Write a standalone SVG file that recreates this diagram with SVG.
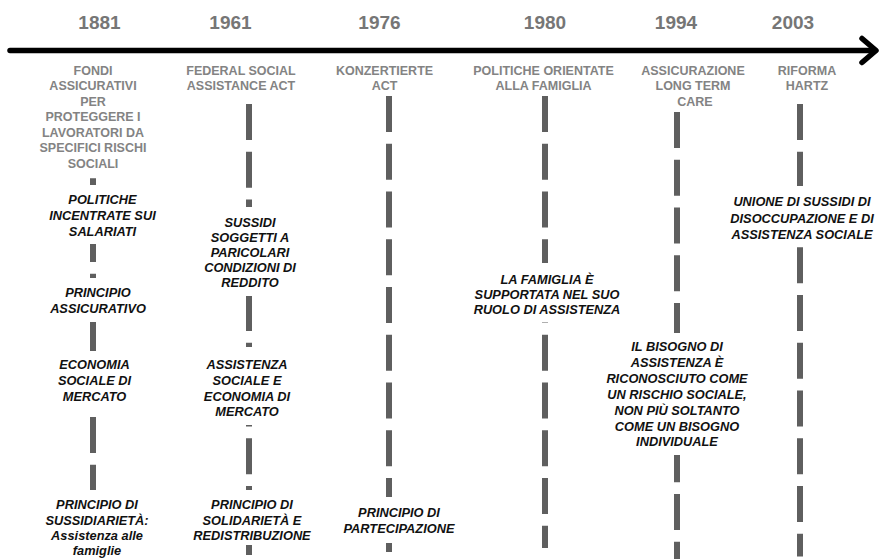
<svg xmlns="http://www.w3.org/2000/svg" width="879" height="559" viewBox="0 0 879 559">
  <style>
    .year { font-family: "Liberation Sans", Arial, sans-serif; font-size: 19px; font-weight: bold; fill: #767676; text-anchor: middle; }
    .head { font-family: "Liberation Sans", Arial, sans-serif; font-size: 12.5px; font-weight: bold; fill: #838383; text-anchor: middle; }
    .note { font-family: "Liberation Sans", Arial, sans-serif; font-size: 12.8px; font-weight: bold; font-style: italic; fill: #111111; text-anchor: middle; }
    .box { fill: #ffffff; stroke: none; }
    .axis { fill: none; stroke: #000000; stroke-width: 5.5; stroke-linecap: round; stroke-linejoin: round; }
    .track { fill: none; stroke: #5f5f5f; stroke-width: 6; stroke-dasharray: 36 11.75; }
  </style>

  <rect width="879" height="559" fill="#ffffff"/>

  <!-- time axis with open arrowhead -->
  <g id="axis">
    <path class="axis" d="M10 50.5 H875"/>
    <path class="axis" d="M862 38.5 L876 50.5 L862 62.5"/>
  </g>

  <!-- year labels -->
  <g id="years">
    <text class="year" x="99.5" y="28.5">1881</text>
    <text class="year" x="230.5" y="28.5">1961</text>
    <text class="year" x="379.5" y="28.5">1976</text>
    <text class="year" x="545" y="28.5">1980</text>
    <text class="year" x="676" y="28.5">1994</text>
    <text class="year" x="793" y="28.5">2003</text>
  </g>

  <!-- dashed vertical tracks, one per milestone -->
  <g id="connectors">
    <path class="track" d="M93 178.25 V548"/>
    <path class="track" d="M249 104 V555"/>
    <path class="track" d="M389 96 V552"/>
    <path class="track" d="M545 96 V548"/>
    <path class="track" d="M677 112 V559"/>
    <path class="track" d="M800 104 V556.5"/>
  </g>

  <!-- milestone headings -->
  <g id="h1881">
    <text class="head" x="93" y="74.5">FONDI</text>
    <text class="head" x="93" y="90">ASSICURATIVI</text>
    <text class="head" x="93" y="105.5">PER</text>
    <text class="head" x="93" y="121">PROTEGGERE I</text>
    <text class="head" x="93" y="136.5">LAVORATORI DA</text>
    <text class="head" x="93" y="152">SPECIFICI RISCHI</text>
    <text class="head" x="93" y="167.5">SOCIALI</text>
  </g>
  <g id="h1961">
    <text class="head" x="241" y="74.5">FEDERAL SOCIAL</text>
    <text class="head" x="241" y="90">ASSISTANCE ACT</text>
  </g>
  <g id="h1976">
    <text class="head" x="384.5" y="74.5">KONZERTIERTE</text>
    <text class="head" x="384.5" y="90">ACT</text>
  </g>
  <g id="h1980">
    <text class="head" x="543.5" y="74.5">POLITICHE ORIENTATE</text>
    <text class="head" x="543.5" y="90">ALLA FAMIGLIA</text>
  </g>
  <g id="h1994">
    <text class="head" x="693" y="74.5">ASSICURAZIONE</text>
    <text class="head" x="693" y="90">LONG TERM</text>
    <text class="head" x="695" y="105.5">CARE</text>
  </g>
  <g id="h2003">
    <text class="head" x="807" y="74.5">RIFORMA</text>
    <text class="head" x="807" y="90">HARTZ</text>
  </g>

  <!-- 1881 notes -->
  <g id="n1881a">
    <rect class="box" x="40" y="185" width="125" height="59"/>
    <text class="note" x="102.5" y="203.5">POLITICHE</text>
    <text class="note" x="102.5" y="219.5">INCENTRATE SUI</text>
    <text class="note" x="102.5" y="235.5">SALARIATI</text>
  </g>
  <g id="n1881b">
    <rect class="box" x="40" y="278" width="125" height="44"/>
    <text class="note" x="98" y="297">PRINCIPIO</text>
    <text class="note" x="98" y="313">ASSICURATIVO</text>
  </g>
  <g id="n1881c">
    <rect class="box" x="40" y="351" width="125" height="60"/>
    <text class="note" x="94.5" y="369">ECONOMIA</text>
    <text class="note" x="94.5" y="385">SOCIALE DI</text>
    <text class="note" x="94.5" y="400.5">MERCATO</text>
  </g>
  <g id="n1881d">
    <rect class="box" x="35" y="490" width="125" height="69"/>
    <text class="note" x="97" y="509">PRINCIPIO DI</text>
    <text class="note" x="97" y="524.5">SUSSIDIARIETÀ:</text>
    <text class="note" x="97" y="539.5">Assistenza alle</text>
    <text class="note" x="97" y="554.5">famiglie</text>
  </g>

  <!-- 1961 notes -->
  <g id="n1961a">
    <rect class="box" x="195" y="207" width="110" height="89"/>
    <text class="note" x="250" y="226.5">SUSSIDI</text>
    <text class="note" x="250" y="241.7">SOGGETTI A</text>
    <text class="note" x="250" y="256.8">PARICOLARI</text>
    <text class="note" x="250" y="272.3">CONDIZIONI DI</text>
    <text class="note" x="250" y="287.3">REDDITO</text>
  </g>
  <g id="n1961b">
    <rect class="box" x="195" y="347" width="110" height="78"/>
    <text class="note" x="247" y="369">ASSISTENZA</text>
    <text class="note" x="247" y="385">SOCIALE E</text>
    <text class="note" x="247" y="400.5">ECONOMIA DI</text>
    <text class="note" x="247" y="416">MERCATO</text>
  </g>
  <g id="n1961c">
    <rect class="box" x="188" y="490" width="128" height="55"/>
    <text class="note" x="252" y="509">PRINCIPIO DI</text>
    <text class="note" x="252" y="525">SOLIDARIETÀ E</text>
    <text class="note" x="252" y="540">REDISTRIBUZIONE</text>
  </g>

  <!-- 1976 note -->
  <g id="n1976a">
    <rect class="box" x="330" y="497" width="134" height="46"/>
    <text class="note" x="399" y="517">PRINCIPIO DI</text>
    <text class="note" x="399" y="532.5">PARTECIPAZIONE</text>
  </g>

  <!-- 1980 note -->
  <g id="n1980a">
    <rect class="box" x="468" y="263" width="158" height="59.5"/>
    <text class="note" x="547" y="284">LA FAMIGLIA È</text>
    <text class="note" x="547" y="299">SUPPORTATA NEL SUO</text>
    <text class="note" x="547" y="314">RUOLO DI ASSISTENZA</text>
  </g>

  <!-- 1994 note -->
  <g id="n1994a">
    <rect class="box" x="602" y="333" width="150" height="122"/>
    <text class="note" x="677" y="351">IL BISOGNO DI</text>
    <text class="note" x="677" y="367">ASSISTENZA È</text>
    <text class="note" x="677" y="383">RICONOSCIUTO COME</text>
    <text class="note" x="677" y="399">UN RISCHIO SOCIALE,</text>
    <text class="note" x="677" y="415">NON PIÙ SOLTANTO</text>
    <text class="note" x="677" y="430.5">COME UN BISOGNO</text>
    <text class="note" x="677" y="446">INDIVIDUALE</text>
  </g>

  <!-- 2003 note -->
  <g id="n2003a">
    <rect class="box" x="728" y="186" width="151" height="61"/>
    <text class="note" x="802" y="206">UNIONE DI SUSSIDI DI</text>
    <text class="note" x="802" y="222.5">DISOCCUPAZIONE E DI</text>
    <text class="note" x="802" y="239">ASSISTENZA SOCIALE</text>
  </g>
</svg>
